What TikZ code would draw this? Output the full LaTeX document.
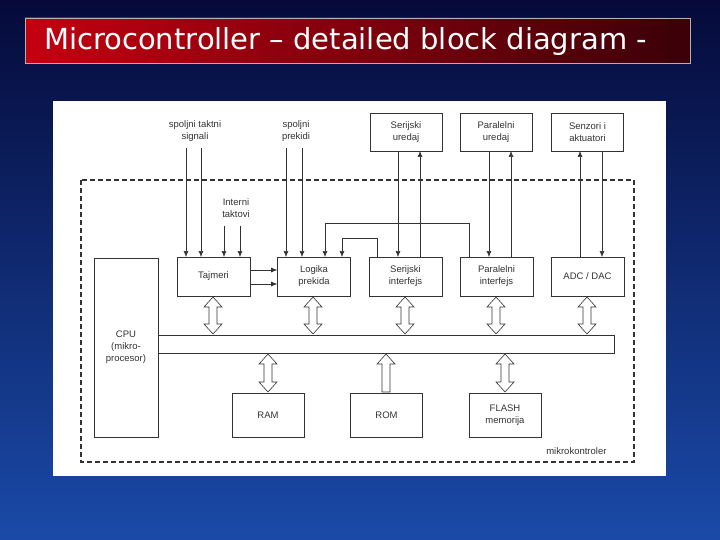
\documentclass[tikz,border=0pt]{standalone}
\usepackage{fontspec}
\setmainfont{Liberation Sans}
\newfontfamily\titlefont{DejaVu Sans}
\usetikzlibrary{arrows.meta}
\definecolor{bgtop}{HTML}{050A3A}
\definecolor{bgbot}{HTML}{1A4AA8}
\definecolor{tleft}{HTML}{C40010}
\definecolor{tright}{HTML}{3A0008}
\definecolor{ln}{HTML}{333333}
\begin{document}
\begin{tikzpicture}[x=1pt,y=-1pt,
  box/.style={draw=ln,line width=0.6pt,fill=white,font=\fontsize{9.5}{12}\selectfont,align=center,inner sep=0pt,text=ln},
  lbl/.style={font=\fontsize{9.5}{12}\selectfont,align=center,text=ln},
  ar/.style={-{Latex[length=6pt,width=5pt]},draw=ln,line width=0.6pt},
  hol/.style={draw=ln,line width=0.6pt,fill=white}]
\useasboundingbox (0,0) rectangle (720,540);
\shade[top color=bgtop,bottom color=bgbot] (0,0) rectangle (720,540);
\shade[left color=tleft,right color=tright,draw=gray!60] (25,18) rectangle (690,63);
\node[text=white,font=\titlefont\fontsize{29}{32}\selectfont,anchor=west,inner sep=0pt] (title) at (44,42) {Microcontroller – detailed block diagram -};
\fill[white] (53,101) rectangle (666,476);
\draw[ln,line width=1.3pt,dash pattern=on 5pt off 3pt] (81,180) rectangle (634,462);
\node[lbl,anchor=south east] (mk) at (610,458) {mikrokontroler};
% boxes
\node[box,minimum width=64pt,minimum height=179pt] (cpu) at (126,347.5) {CPU\\(mikro-\\procesor)};
\node[box,minimum width=456pt,minimum height=18pt,anchor=north west] (bus) at (158,335) {};
\foreach \n/\x/\t in {taj/213.5/Tajmeri,log/314/{Logika\\prekida},ser/405.5/{Serijski\\interfejs},par/496.5/{Paralelni\\interfejs},adc/587.5/{ADC / DAC}}
  \node[box,minimum width=73pt,minimum height=39pt] (\n) at (\x,276.5) {\t};
\foreach \n/\x/\t in {sud/406/{Serijski\\uredaj},pud/496/{Paralelni\\uredaj},sen/587.5/{Senzori i\\aktuatori}}
  \node[box,minimum width=72pt,minimum height=38pt] (\n) at (\x,132) {\t};
\foreach \n/\x/\t in {ram/268/RAM,rom/386.5/ROM,fla/505/{FLASH\\memorija}}
  \node[box,minimum width=72pt,minimum height=44pt] (\n) at (\x,415) {\t};
% labels
\node[lbl] (sts) at (195,131) {spoljni taktni\\signali};
\node[lbl] (spp) at (296,131) {spoljni\\prekidi};
\node[lbl] (itk) at (236,208) {Interni\\taktovi};
% thin arrows
\foreach \x in {186,201} \draw[ar] (\x,148) -- (\x,257);
\foreach \x in {224,240} \draw[ar] (\x,226) -- (\x,257);
\foreach \x in {286,302} \draw[ar] (\x,148) -- (\x,257);
\draw[ar] (taj.east |- 0,270) -- (log.west |- 0,270);
\draw[ar] (taj.east |- 0,284) -- (log.west |- 0,284);
\draw[ar] (377,257) -- (377,238) -- (342,238) -- (342,257);
\draw[ar] (469,257) -- (469,223) -- (325,223) -- (325,257);
\draw[ar] (398,151) -- (398,257);
\draw[ar] (420,257) -- (420,151);
\draw[ar] (489,151) -- (489,257);
\draw[ar] (511,257) -- (511,151);
\draw[ar] (580,257) -- (580,151);
\draw[ar] (602,151) -- (602,257);
% hollow double arrows
\newcommand\hdbl[3]{\draw[hol] (#1,#2) -- (#1+9,#2+10) -- (#1+4,#2+10) -- (#1+4,#3-10) -- (#1+9,#3-10) -- (#1,#3) -- (#1-9,#3-10) -- (#1-4,#3-10) -- (#1-4,#2+10) -- (#1-9,#2+10) -- cycle;}
\foreach \x in {213,313,405,496,587} \hdbl{\x}{297}{334};
\hdbl{268}{354}{392}
\hdbl{505}{354}{392}
\draw[hol] (386,354) -- (395,364) -- (390,364) -- (390,392) -- (382,392) -- (382,364) -- (377,364) -- cycle;
\end{tikzpicture}
\end{document}
